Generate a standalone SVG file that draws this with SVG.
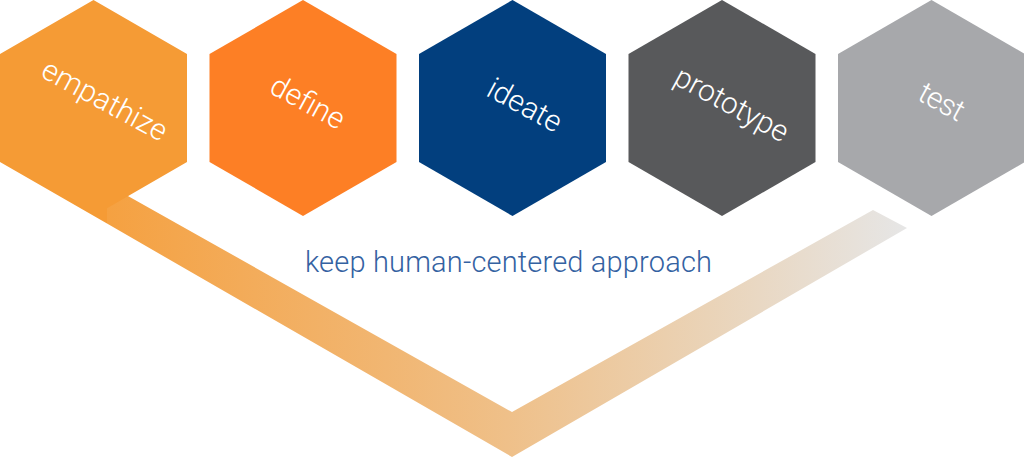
<svg xmlns="http://www.w3.org/2000/svg" xmlns:xlink="http://www.w3.org/1999/xlink" width="1024" height="458" viewBox="0 0 1024 458">
  <defs>
    <polygon id="hex" points="0,0 93.5,54 93.5,162 0,216 -93.5,162 -93.5,54"/>
    <linearGradient id="bandGrad" gradientUnits="userSpaceOnUse" x1="107" y1="0" x2="907" y2="0">
      <stop offset="0" stop-color="#F5A141"/>
      <stop offset="0.35" stop-color="#F1B672"/>
      <stop offset="0.5" stop-color="#EFC089"/>
      <stop offset="0.75" stop-color="#EAD3B7"/>
      <stop offset="1" stop-color="#E6E6E6"/>
    </linearGradient>
    <style>
      .lbl { font-family: "Roboto", "Liberation Sans", sans-serif; font-weight: 300; font-size: 30px; fill: #FFFFFF; text-anchor: middle; }
      .main { font-family: "Roboto", "Liberation Sans", sans-serif; font-weight: 300; font-size: 29px; fill: #3462A2; text-anchor: middle; }
    </style>
  </defs>
  <rect width="1024" height="458" fill="#FFFFFF"/>

  <g id="connectors">
    <polygon id="band" points="107,184.2 512,412 873,210 907,228 512,457 107,223.6" fill="url(#bandGrad)"/>
  </g>

  <g id="empathize">
    <polygon points="93.5,0 187,54 187,162 107,208.2 107,223.6 0,162 0,54" fill="#F59B35"/>
    <text class="lbl" x="100" y="109" textLength="138" transform="rotate(28.5 100 109)">empathize</text>
  </g>
  <g id="define">
    <use xlink:href="#hex" href="#hex" transform="translate(303,0)" fill="#FD7F25"/>
    <text class="lbl" x="303" y="111" textLength="80" transform="rotate(28.5 303 111)">define</text>
  </g>
  <g id="ideate">
    <use xlink:href="#hex" href="#hex" transform="translate(512.5,0)" fill="#023F7E"/>
    <text class="lbl" x="520" y="114" textLength="80" transform="rotate(28.5 520 114)">ideate</text>
  </g>
  <g id="prototype">
    <use xlink:href="#hex" href="#hex" transform="translate(722,0)" fill="#58595B"/>
    <text class="lbl" x="727" y="113" textLength="125" transform="rotate(28.5 727 113)">prototype</text>
  </g>
  <g id="test">
    <use xlink:href="#hex" href="#hex" transform="translate(931.5,0)" fill="#A7A8AB"/>
    <text class="lbl" x="937" y="110.5" textLength="48" transform="rotate(28.5 937 110.5)">test</text>
  </g>

  <g id="caption">
    <text class="main" x="508.5" y="272" textLength="407">keep human-centered approach</text>
  </g>
</svg>
